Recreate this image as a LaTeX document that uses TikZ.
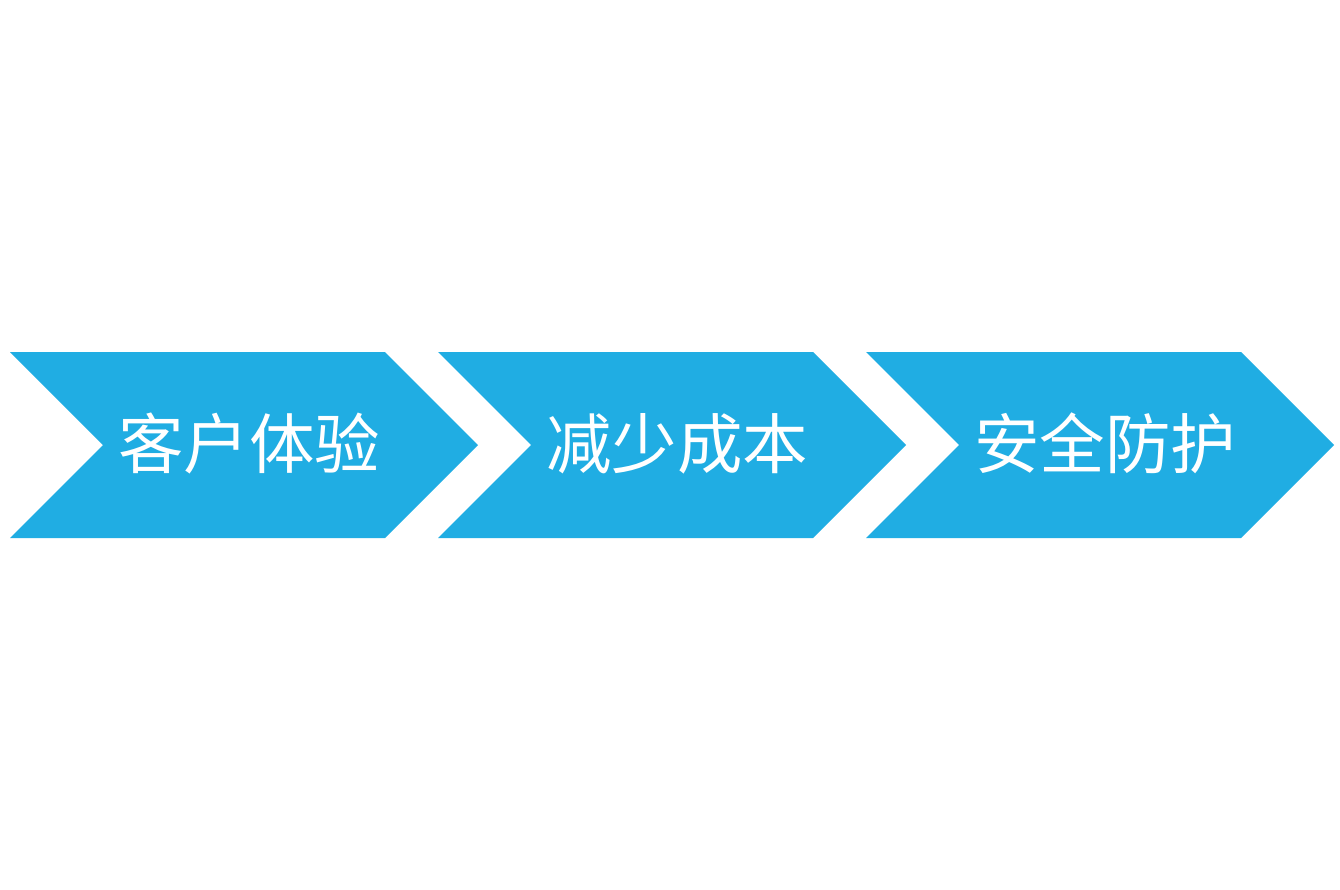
\documentclass[tikz,border=0pt]{standalone}
\usepackage{fontspec}
\newfontfamily\cjk{Noto Sans CJK SC}
\definecolor{chev}{HTML}{20ADE3}
\begin{document}
\begin{tikzpicture}[x=1pt,y=-1pt,
  chevshape/.style={fill=chev,draw=none},
  lbl/.style={text=white,font=\cjk\fontsize{65.5}{65.5}\selectfont,inner sep=0pt,anchor=center}]
\useasboundingbox (0,0) rectangle (1340,889);
\fill[white] (0,0) rectangle (1340,889);
\foreach \i/\t in {0/客户体验,1/减少成本,2/安全防护}{
  \begin{scope}[xshift=\i*428]
    \fill[chevshape] (10,352) -- (385,352) -- (478,445) -- (385,538) -- (10,538) -- (103,445) -- cycle;
    \node[lbl] (t\i) at (249,443.5) {\t};
  \end{scope}
}
\end{tikzpicture}
\end{document}
